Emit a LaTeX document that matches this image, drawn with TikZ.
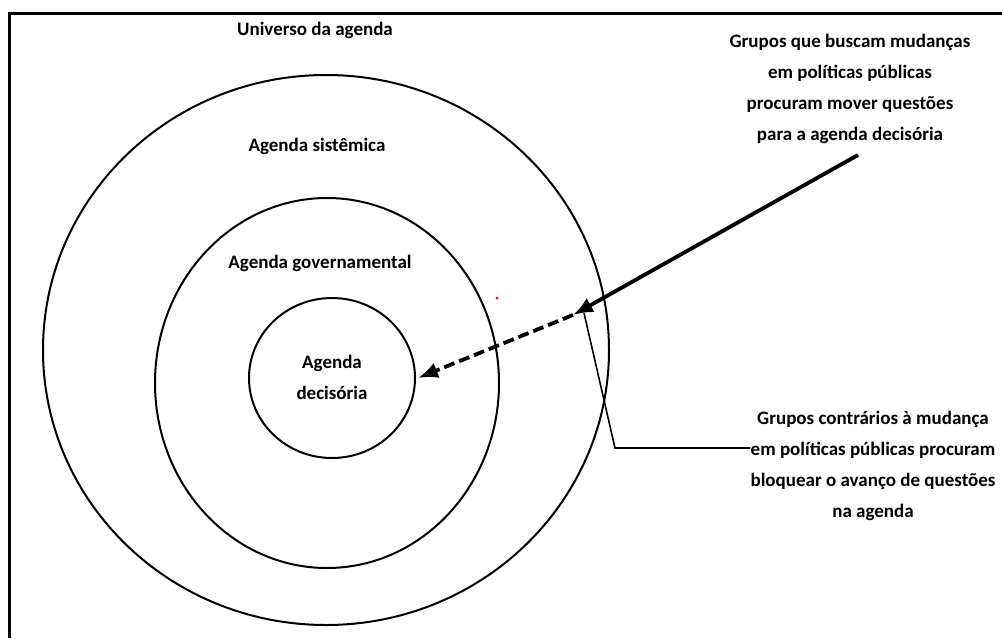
\documentclass[tikz,border=0pt]{standalone}
\usepackage{fontspec}
\setmainfont{Carlito}
\usetikzlibrary{arrows.meta}
\begin{document}
\begin{tikzpicture}[x=1pt,y=-1pt,
  lbl/.style={font=\bfseries\fontsize{19}{31}\selectfont, align=center, inner sep=0pt},
  ring/.style={draw=black, line width=2pt},
  frameline/.style={line width=3pt}]
\useasboundingbox (0,0) rectangle (1002,638);
\fill[white] (0,0) rectangle (1002,638);
% frame
\draw[frameline] (1002,13) -- (9,13) -- (9,638);
% circles
\draw[ring] (326,350) ellipse [x radius=283, y radius=275];
\draw[ring] (327,383) ellipse [x radius=172, y radius=185];
\draw[ring] (332,378) ellipse [x radius=83, y radius=80];
% labels
\node[lbl] (univ) at (315,30) {Universo da agenda};
\node[lbl] (sist) at (317,146) {Agenda sistêmica};
\node[lbl] (gov) at (320,263) {Agenda governamental};
\node[lbl] (dec) at (332,377) {Agenda\\decisória};
\node[lbl] (pro) at (850,89) {Grupos que buscam mudanças\\em políticas públicas\\procuram mover questões\\para a agenda decisória};
\node[lbl] (contra) at (873,466) {Grupos contrários à mudança\\em políticas públicas procuram\\bloquear o avanço de questões\\na agenda};
% connectors
\coordinate (s) at (858,155);
\coordinate (m) at (573,315);
\coordinate (e) at (418,378);
\coordinate (k) at (615,448);
\coordinate (c) at (584,313);
\draw[line width=3.8pt, -{Latex[length=20pt,width=16pt]}] (s) -- (m);
\draw[line width=3.8pt, dash pattern=on 11pt off 5pt, -{Latex[length=20pt,width=16pt]}] (m) -- (e);
\draw[line width=1.6pt] (c) -- (k) -- (contra.west |- k);
\fill[red] (497,298) circle (1.5);
\end{tikzpicture}
\end{document}
